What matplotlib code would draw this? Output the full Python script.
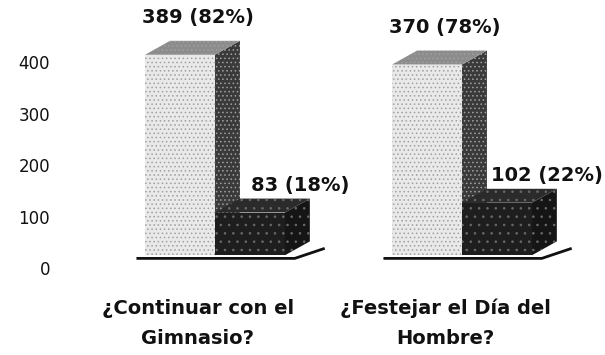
import matplotlib
matplotlib.use("Agg")
import matplotlib.pyplot as plt
from matplotlib.patches import Polygon

# Datos
categorias = ["¿Continuar con el\nGimnasio?", "¿Festejar el Día del\nHombre?"]
si = [389, 370]
no = [83, 102]
pct_si = [82, 78]
pct_no = [18, 22]
yticks = [0, 100, 200, 300, 400]

plt.rcParams["font.family"] = ["DejaVu Sans"]
plt.rcParams["hatch.linewidth"] = 0.6

fig = plt.figure(figsize=(6.05, 3.55), dpi=100)
ax = fig.add_axes([60 / 605, 93 / 355, 545 / 605, 262 / 355])

ancho = 0.283     # ancho de cada barra
dx, dy = 0.101, 27  # profundidad del efecto 3D

def barra_3d(x0, valor, frente, arriba, lado, trama, color_trama, z):
    x1 = x0 + ancho
    ax.add_patch(Polygon([(x1, 0), (x1 + dx, dy), (x1 + dx, valor + dy), (x1, valor)],
                         closed=True, facecolor=lado, edgecolor=color_trama,
                         hatch=trama, linewidth=0, zorder=z))
    ax.add_patch(Polygon([(x0, valor), (x1, valor), (x1 + dx, valor + dy), (x0 + dx, valor + dy)],
                         closed=True, facecolor=arriba, edgecolor=color_trama,
                         hatch=trama, linewidth=0, zorder=z))
    ax.bar(x0, valor, width=ancho, align="edge", color=frente, edgecolor=color_trama,
           hatch=trama, linewidth=0, zorder=z + 0.5)

for i in range(len(categorias)):
    # base de cada grupo
    xa, xb = i - ancho - 0.035, i + ancho + 0.04
    ax.plot([xa, xb, xb + dx * 1.2], [-6, -6, dy * 0.5], color="#111111", lw=2,
            solid_capstyle="butt", zorder=1)
    barra_3d(i - ancho, si[i], "#e9e9e9", "#8c8c8c", "#3a3a3a", "....", "#a0a0a0", 2)
    barra_3d(i, no[i], "#1e1e1e", "#2b2b2b", "#151515", "..", "#6a6a6a", 4)

    ax.annotate(f"{si[i]} ({pct_si[i]}%)", (i - ancho / 2, si[i] + dy),
                xytext=(18, 23), textcoords="offset pixels", ha="center", va="center",
                fontsize=14, fontweight="bold", color="#111111", zorder=6)
    ax.annotate(f"{no[i]} ({pct_no[i]}%)", (i + ancho / 2, no[i] + dy),
                xytext=(50, 13), textcoords="offset pixels", ha="center", va="center",
                fontsize=14, fontweight="bold", color="#111111", zorder=6)

    # etiqueta de la pregunta
    ax.annotate(categorias[i], (i, 0), xycoords=ax.get_xaxis_transform(),
                xytext=(-17, -37), textcoords="offset pixels", ha="center", va="top",
                fontsize=14, fontweight="bold", color="#111111", linespacing=1.7,
                annotation_clip=False)

# escala del eje vertical
for t in yticks:
    ax.annotate(str(t), (0, t), xycoords=ax.get_yaxis_transform(),
                xytext=(-10, -15), textcoords="offset pixels", ha="right", va="center",
                fontsize=12, color="#111111", annotation_clip=False)

ax.set_xlim(-155 / 247, 390 / 247)
ax.set_ylim(-13, 255 / 0.515)
ax.set_xticks([])
ax.set_yticks([])
for s in ax.spines.values():
    s.set_visible(False)

fig.savefig("out.png", dpi=100)
